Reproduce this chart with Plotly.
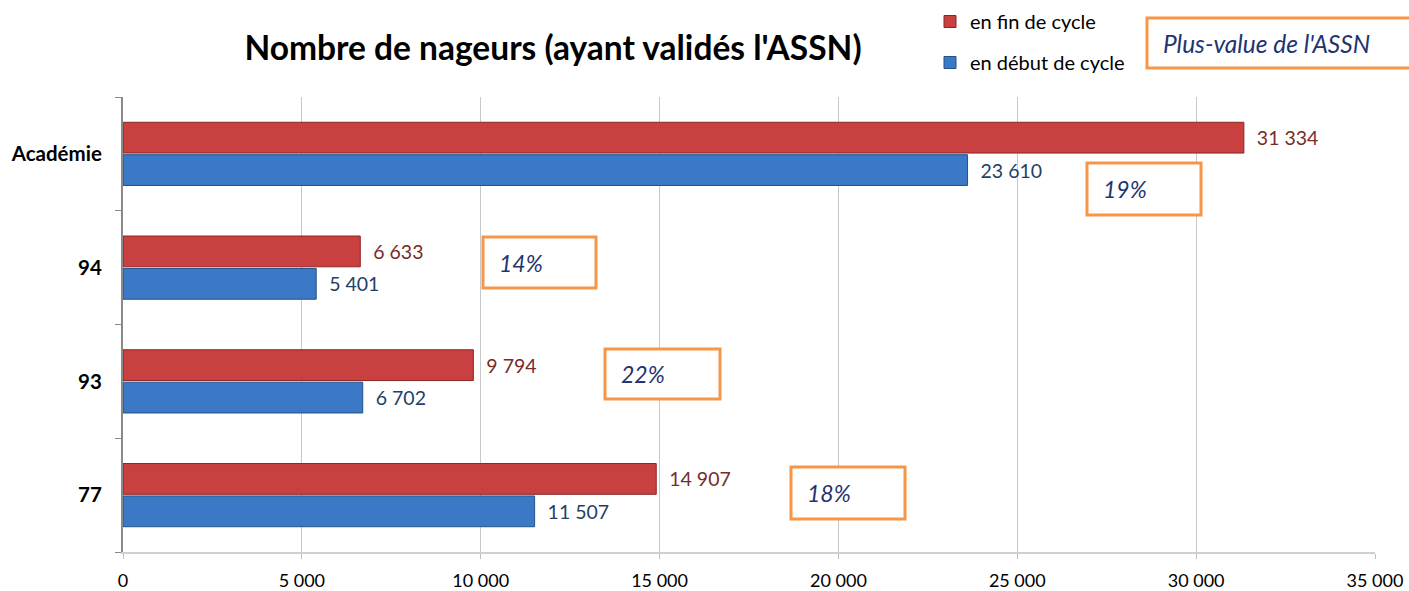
import plotly.graph_objects as go

# ---- data ----
categories = ["77", "93", "94", "Académie"]
debut_cycle = [11507, 6702, 5401, 23610]
fin_cycle = [14907, 9794, 6633, 31334]
plus_value = ["18%", "22%", "14%", "19%"]
x_ticks = [0, 5000, 10000, 15000, 20000, 25000, 30000, 35000]

W, H = 1409, 591
L, R, T, B = 123, 34, 97, 39
PW, PH = W - L - R, H - T - B

def px_x(px):
    return (px - L) / PW

def px_y(py):
    return (H - B - py) / PH

FONT = "Lato"
ORANGE = "#f79646"
NAVY = "#1f3470"

fig = go.Figure()
fig.add_trace(go.Bar(
    y=categories, x=debut_cycle, orientation="h", name="en début de cycle",
    legendgroup="b", legendrank=2,
    marker=dict(color="#3b78c6", line=dict(color="#24508a", width=1)),
    texttemplate="\u00a0\u00a0%{x:,d}", textposition="outside",
    textfont=dict(color="#243f66", size=19.5, family=FONT), cliponaxis=False,
))
fig.add_trace(go.Bar(
    y=categories, x=fin_cycle, orientation="h", name="en fin de cycle",
    legendgroup="a", legendrank=1,
    marker=dict(color="#c94040", line=dict(color="#8c2424", width=1)),
    texttemplate="\u00a0\u00a0%{x:,d}", textposition="outside",
    textfont=dict(color="#772c2a", size=19.5, family=FONT), cliponaxis=False,
))

# plus-value boxes (pixel layout)
box_px = [(791, 905, 467, 519), (605, 720, 349, 399), (483, 596, 237, 288), (1087, 1201, 163, 215)]
shapes = []
annotations = []
for (x0, x1, y0, y1), pv in zip(box_px, plus_value):
    shapes.append(dict(type="rect", xref="paper", yref="paper",
                       x0=px_x(x0), x1=px_x(x1), y0=px_y(y1), y1=px_y(y0),
                       line=dict(color=ORANGE, width=3), fillcolor="white", layer="above"))
    annotations.append(dict(xref="paper", yref="paper", x=px_x(x0 + 14), y=px_y((y0 + y1) / 2),
                            xanchor="left", yanchor="middle", showarrow=False, text=pv,
                            font=dict(family=FONT, size=23, color=NAVY, style="italic")))

# legend-like box
shapes.append(dict(type="rect", xref="paper", yref="paper",
                   x0=px_x(1147), x1=px_x(1425), y0=px_y(68), y1=px_y(18),
                   line=dict(color=ORANGE, width=3), fillcolor="white", layer="above"))
annotations.append(dict(xref="paper", yref="paper", x=px_x(1161), y=px_y(44),
                        xanchor="left", yanchor="middle", showarrow=False,
                        text="Plus-value de l'ASSN",
                        font=dict(family=FONT, size=24.5, color=NAVY, style="italic")))

fig.update_layout(
    width=W, height=H,
    margin=dict(l=L, r=R, t=T, b=B, autoexpand=False),
    paper_bgcolor="white", plot_bgcolor="white",
    separators=", ",
    font=dict(family=FONT, size=17, color="#000000"),
    title=dict(text="<b>Nombre de nageurs (ayant validés l'ASSN)</b>",
               x=553 / W, xanchor="center", y=1 - 48 / H, yanchor="middle",
               font=dict(family=FONT, size=33.5, color="#000000")),
    barmode="group", bargap=0.43, bargroupgap=0.05,
    showlegend=True,
    legend=dict(x=px_x(930), y=px_y(2), xanchor="left", yanchor="top",
                traceorder="grouped", tracegroupgap=12,
                font=dict(family=FONT, size=20, color="#000000"),
                bgcolor="rgba(0,0,0,0)", itemwidth=30),
    shapes=shapes, annotations=annotations,
    xaxis=dict(range=[0, 35000], tickvals=x_ticks, tickformat=",d",
               showgrid=True, gridcolor="#c9c9c9", gridwidth=1,
               showline=True, linecolor="#d0d0d0", linewidth=2,
               ticks="outside", ticklen=5, tickcolor="#bfbfbf",
               zeroline=False, ticklabelstandoff=6, automargin=False,
               tickfont=dict(family=FONT, size=18, color="#000000")),
    yaxis=dict(type="category", categoryorder="array", categoryarray=categories,
               showline=True, linecolor="#8a8a8a", linewidth=2,
               ticks="outside", ticklen=6, tickcolor="#8a8a8a", tickson="boundaries",
               showgrid=False, ticklabelstandoff=15, automargin=False,
               tickfont=dict(family=FONT, size=20.5, color="#000000", weight="bold")),
)

fig.write_html("out.html", config={"displayModeBar": False},
               post_script="document.body.style.margin='0';document.body.style.overflow='hidden';")
